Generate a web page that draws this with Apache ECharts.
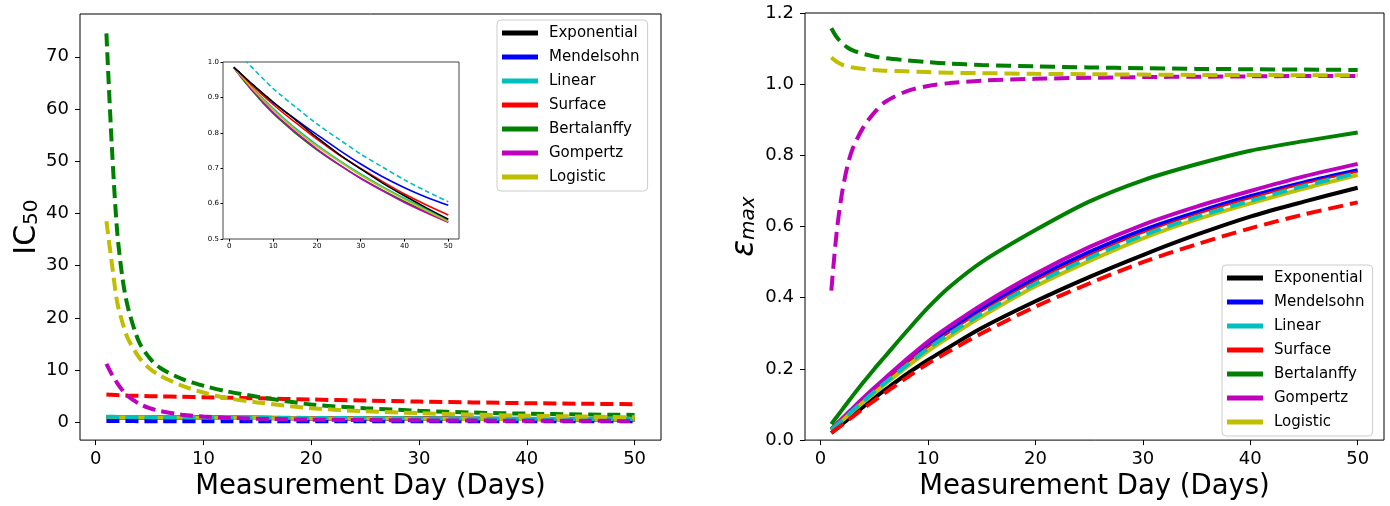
<!DOCTYPE html>
<html>
<head>
<meta charset="utf-8">
<script src="https://cdn.jsdelivr.net/npm/echarts@6/dist/echarts.min.js"></script>
<style>html,body{margin:0;padding:0;background:#fff;}#c{width:1390px;height:506px;}</style>
</head>
<body>
<div id="c"></div>
<script>
// ---- data ----
const models = ['Exponential','Mendelsohn','Linear','Surface','Bertalanffy','Gompertz','Logistic'];
const colors = ['#000000','#0000ff','#00bfbf','#ff0000','#008000','#bf00bf','#bfbf00'];
const days = [1,1.5,2,2.5,3,4,5,6,8,10,12,15,20,25,30,35,40,45,50];
const xTicks = [0,10,20,30,40,50];
const icTicks = [0,10,20,30,40,50,60,70];
const insetYTicks = [0.5,0.6,0.7,0.8,0.9,1.0];
const epsTicks = [0,0.2,0.4,0.6,0.8,1.0,1.2];

// IC50 solid curves (shown in the inset; near 1 in the main panel)
const icExpSolid = [0.985,0.979,0.974,0.968,0.962,0.951,0.940,0.929,0.908,0.887,0.867,0.838,0.787,0.740,0.698,0.658,0.622,0.588,0.556];
const icMenSolid = [0.985,0.979,0.974,0.968,0.962,0.950,0.939,0.928,0.906,0.885,0.866,0.839,0.795,0.752,0.712,0.676,0.645,0.618,0.595];
const icLinSolid = [0.985,0.978,0.971,0.964,0.957,0.944,0.931,0.918,0.893,0.869,0.846,0.814,0.766,0.723,0.684,0.648,0.615,0.584,0.553];
const icSurSolid = [0.985,0.979,0.973,0.966,0.960,0.948,0.936,0.925,0.902,0.880,0.859,0.830,0.782,0.738,0.699,0.662,0.627,0.596,0.568];
const icBerSolid = [0.985,0.976,0.968,0.960,0.952,0.937,0.922,0.908,0.880,0.855,0.832,0.800,0.752,0.710,0.672,0.638,0.606,0.576,0.548];
const icGomSolid = [0.985,0.977,0.969,0.961,0.954,0.939,0.924,0.910,0.883,0.858,0.835,0.803,0.754,0.711,0.671,0.636,0.603,0.574,0.547];
const icLogSolid = [0.985,0.977,0.970,0.963,0.956,0.942,0.928,0.915,0.889,0.865,0.842,0.810,0.762,0.720,0.680,0.645,0.612,0.580,0.549];
// IC50 dashed curves
const icMenDash = [0.22,0.22,0.22,0.22,0.22,0.21,0.21,0.21,0.21,0.20,0.20,0.20,0.20,0.19,0.19,0.19,0.18,0.18,0.18];
const icLinDash = [1.040,1.033,1.026,1.019,1.013,1.000,0.987,0.974,0.949,0.925,0.904,0.874,0.825,0.782,0.740,0.703,0.667,0.635,0.605];
const icSurDash = [5.30,5.25,5.20,5.16,5.12,5.05,5.00,4.95,4.87,4.80,4.72,4.60,4.35,4.15,3.95,3.80,3.65,3.55,3.45];
const icBerDash = [74.5,53.0,36.5,27.5,22.0,15.5,12.3,10.4,8.3,7.0,6.0,4.9,3.4,2.7,2.2,1.85,1.65,1.5,1.4];
const icGomDash = [11.2,9.2,7.5,6.1,5.0,3.6,2.7,2.15,1.45,1.10,0.88,0.68,0.50,0.42,0.36,0.32,0.30,0.28,0.26];
const icLogDash = [38.5,30.5,23.0,19.0,16.0,12.5,10.3,8.9,7.0,5.7,4.7,3.8,2.7,2.1,1.75,1.45,1.25,1.1,0.95];

// epsilon_max solid curves
const epsExpSolid = [0.020,0.032,0.045,0.057,0.070,0.094,0.118,0.141,0.185,0.225,0.262,0.315,0.390,0.458,0.520,0.577,0.628,0.670,0.709];
const epsMenSolid = [0.030,0.045,0.059,0.074,0.088,0.116,0.143,0.170,0.222,0.270,0.312,0.370,0.455,0.528,0.590,0.640,0.685,0.724,0.758];
const epsSurSolid = [0.028,0.043,0.057,0.071,0.085,0.113,0.140,0.166,0.216,0.262,0.303,0.362,0.448,0.520,0.583,0.635,0.680,0.721,0.755];
const epsBerSolid = [0.045,0.065,0.085,0.105,0.125,0.163,0.200,0.235,0.305,0.372,0.430,0.500,0.590,0.670,0.730,0.775,0.813,0.840,0.864];
const epsGomSolid = [0.030,0.045,0.060,0.075,0.090,0.119,0.147,0.174,0.227,0.277,0.320,0.380,0.467,0.542,0.605,0.656,0.700,0.741,0.776];
const epsLogSolid = [0.027,0.041,0.054,0.068,0.081,0.107,0.132,0.157,0.205,0.250,0.290,0.347,0.432,0.503,0.567,0.620,0.665,0.707,0.745];
// epsilon_max dashed curves
const epsLinDash = [0.028,0.042,0.055,0.069,0.083,0.110,0.136,0.161,0.210,0.257,0.298,0.355,0.440,0.512,0.575,0.627,0.672,0.714,0.750];
const epsSurDash = [0.020,0.032,0.043,0.055,0.066,0.089,0.111,0.133,0.175,0.215,0.250,0.300,0.375,0.440,0.500,0.550,0.595,0.634,0.668];
const epsBerDash = [1.157,1.132,1.115,1.103,1.095,1.085,1.078,1.073,1.067,1.062,1.058,1.054,1.050,1.047,1.045,1.043,1.042,1.041,1.040];
const epsGomDash = [0.420,0.585,0.695,0.770,0.820,0.880,0.920,0.950,0.980,0.995,1.003,1.010,1.015,1.018,1.020,1.021,1.022,1.023,1.023];
const epsLogDash = [1.075,1.063,1.055,1.050,1.047,1.043,1.040,1.038,1.036,1.034,1.032,1.031,1.029,1.028,1.027,1.026,1.026,1.025,1.025];

// ---- chart ----
const FONT = "'DejaVu Sans', sans-serif";
const pts = v => days.map((d, i) => [d, v[i]]);
function line(model, vals, xi, yi, width, dash, z) {
  const c = colors[models.indexOf(model)];
  return {
    type: 'line', name: model, data: pts(vals), xAxisIndex: xi, yAxisIndex: yi,
    color: c, showSymbol: false, symbol: 'none', smooth: 0.3,
    lineStyle: { color: c, width: width, type: dash ? dash : 'solid', cap: 'butt' },
    itemStyle: { color: c }, z: z || 2, silent: true, clip: true
  };
}
function xAxis(gi, fs, showName) {
  return {
    type: 'value', gridIndex: gi, min: -1.45, max: 52.45,
    axisLine: { show: false, onZero: false }, splitLine: { show: false },
    axisTick: { show: true, length: fs > 10 ? 5 : 2.5, inside: false, customValues: xTicks, lineStyle: { color: '#000' } },
    axisLabel: { customValues: xTicks, fontFamily: FONT, fontSize: fs, color: '#000', margin: fs > 10 ? 10 : 4 },
    name: showName ? 'Measurement Day (Days)' : '', nameLocation: 'middle', nameGap: 30,
    nameTextStyle: { fontFamily: FONT, fontSize: 27.5, color: '#000' }
  };
}
const option = {
  animation: false,
  backgroundColor: '#fff',
  grid: [
    { left: 80, top: 14, width: 581, height: 429, show: true, borderColor: '#000', borderWidth: 1, containLabel: false },
    { left: 805, top: 13, width: 579, height: 430, show: true, borderColor: '#000', borderWidth: 1, containLabel: false },
    { left: 223, top: 62, width: 236, height: 177, show: true, borderColor: '#444', borderWidth: 1, containLabel: false, z: 5 }
  ],
  xAxis: [ xAxis(0, 18, true), xAxis(1, 18, true), Object.assign(xAxis(2, 7, false), { z: 6 }) ],
  yAxis: [
    { type: 'value', gridIndex: 0, min: -3.42, max: 78.2,
      axisLine: { show: false, onZero: false }, splitLine: { show: false },
      axisTick: { show: true, length: 5, customValues: icTicks, lineStyle: { color: '#000' } },
      axisLabel: { customValues: icTicks, fontFamily: FONT, fontSize: 18, color: '#000', margin: 11 },
      name: '{a|IC}{b|50}', nameLocation: 'middle', nameRotate: 90, nameGap: 38,
      nameTextStyle: { rich: {
        a: { fontFamily: FONT, fontSize: 30, color: '#000', lineHeight: 30, verticalAlign: 'top' },
        b: { fontFamily: FONT, fontSize: 20, color: '#000', lineHeight: 20, verticalAlign: 'bottom', padding: [15, 0, 0, 0] } } } },
    { type: 'value', gridIndex: 1, min: 0, max: 1.2,
      axisLine: { show: false, onZero: false }, splitLine: { show: false },
      axisTick: { show: true, length: 5, customValues: epsTicks, lineStyle: { color: '#000' } },
      axisLabel: { customValues: epsTicks, fontFamily: FONT, fontSize: 18, color: '#000', margin: 11, formatter: v => v.toFixed(1) },
      name: '{a|ε}{b|max}', nameLocation: 'middle', nameRotate: 90, nameGap: 46,
      nameTextStyle: { rich: {
        a: { fontFamily: FONT, fontSize: 31, fontStyle: 'italic', color: '#000', lineHeight: 30, verticalAlign: 'top' },
        b: { fontFamily: FONT, fontSize: 20, fontStyle: 'italic', color: '#000', lineHeight: 20, verticalAlign: 'bottom', padding: [15, 0, 0, 0] } } } },
    { type: 'value', gridIndex: 2, min: 0.5, max: 1.0, z: 6,
      axisLine: { show: false, onZero: false }, splitLine: { show: false },
      axisTick: { show: true, length: 2.5, customValues: insetYTicks, lineStyle: { color: '#000' } },
      axisLabel: { customValues: insetYTicks, fontFamily: FONT, fontSize: 7, color: '#000', margin: 4, formatter: v => v.toFixed(1) } }
  ],
  legend: [0, 1].map(k => ({
    left: k ? 1222 : 497, top: k ? 265 : 20, orient: 'vertical', icon: 'rect',
    itemWidth: 36, itemHeight: 5, itemGap: 8, padding: [5, 8, 6, 5],
    backgroundColor: 'rgba(255,255,255,0.85)', borderColor: '#cccccc', borderWidth: 1, borderRadius: 4,
    selectedMode: false, z: 10,
    textStyle: { fontFamily: FONT, fontSize: 15, color: '#000', lineHeight: 16, padding: [0, 0, 0, 6] },
    data: models
  })),
  series: [
    // left main: solid
    line('Exponential', icExpSolid, 0, 0, 4),
    line('Mendelsohn', icMenSolid, 0, 0, 4),
    line('Linear', icLinSolid, 0, 0, 4),
    line('Surface', icSurSolid, 0, 0, 4),
    line('Bertalanffy', icBerSolid, 0, 0, 4),
    line('Gompertz', icGomSolid, 0, 0, 4),
    line('Logistic', icLogSolid, 0, 0, 4),
    // left main: dashed
    line('Mendelsohn', icMenDash, 0, 0, 4, [13, 6], 3),
    line('Linear', icLinDash, 0, 0, 4, [13, 6], 3),
    line('Surface', icSurDash, 0, 0, 4, [13, 6], 3),
    line('Bertalanffy', icBerDash, 0, 0, 4, [13, 6], 3),
    line('Gompertz', icGomDash, 0, 0, 4, [13, 6], 3),
    line('Logistic', icLogDash, 0, 0, 4, [13, 6], 3),
    // inset
    line('Mendelsohn', icMenSolid, 2, 2, 1.6, null, 7),
    line('Linear', icLinSolid, 2, 2, 1.6, null, 7),
    line('Surface', icSurSolid, 2, 2, 1.6, null, 7),
    line('Bertalanffy', icBerSolid, 2, 2, 1.6, null, 7),
    line('Gompertz', icGomSolid, 2, 2, 1.6, null, 7),
    line('Logistic', icLogSolid, 2, 2, 1.6, null, 7),
    line('Exponential', icExpSolid, 2, 2, 1.6, null, 7),
    line('Linear', icLinDash, 2, 2, 1.6, [5, 3], 7),
    // right: solid
    line('Exponential', epsExpSolid, 1, 1, 4),
    line('Mendelsohn', epsMenSolid, 1, 1, 4),
    line('Surface', epsSurSolid, 1, 1, 2),
    line('Bertalanffy', epsBerSolid, 1, 1, 4),
    line('Gompertz', epsGomSolid, 1, 1, 4),
    line('Logistic', epsLogSolid, 1, 1, 4),
    // right: dashed
    line('Linear', epsLinDash, 1, 1, 4, [15, 7], 3),
    line('Surface', epsSurDash, 1, 1, 4, [15, 7], 3),
    line('Bertalanffy', epsBerDash, 1, 1, 4, [15, 7], 3),
    line('Gompertz', epsGomDash, 1, 1, 4, [15, 7], 3),
    line('Logistic', epsLogDash, 1, 1, 4, [15, 7], 3)
  ]
};
const chart = echarts.init(document.getElementById('c'), null, { renderer: 'canvas' });
chart.setOption(option);
</script>
</body>
</html>
